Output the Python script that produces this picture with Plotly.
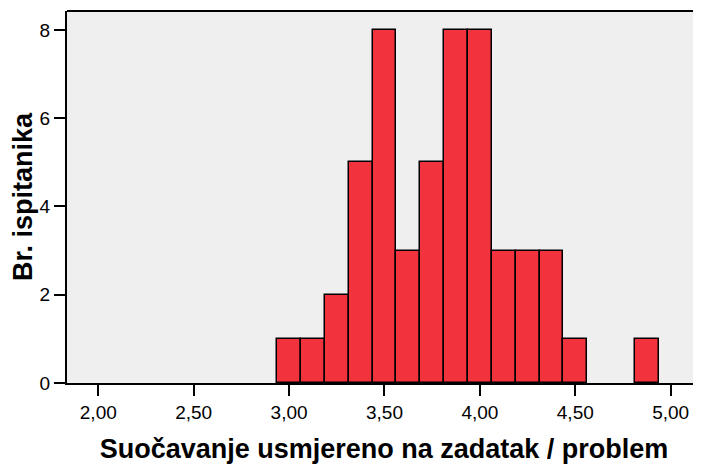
import plotly.graph_objects as go

bin_centers = [3.0, 3.125, 3.25, 3.375, 3.5, 3.625, 3.75, 3.875, 4.0, 4.125,
               4.25, 4.375, 4.5, 4.625, 4.75, 4.875]
counts = [1, 1, 2, 5, 8, 3, 5, 8, 8, 3, 3, 3, 1, 0, 0, 1]
bin_width = 0.125
x_ticks = [2.0, 2.5, 3.0, 3.5, 4.0, 4.5, 5.0]
x_tick_labels = ["2,00", "2,50", "3,00", "3,50", "4,00", "4,50", "5,00"]
y_ticks = [0, 2, 4, 6, 8]

fig = go.Figure()
fig.add_trace(go.Bar(
    x=bin_centers, y=counts, width=[bin_width] * len(bin_centers),
    marker=dict(color="#F2333D",
                line=dict(color="black", width=[1.5 if c > 0 else 0 for c in counts])),
    hoverinfo="x+y",
))

font_family = "Liberation Sans, Arial, sans-serif"
# page body has an 8px margin, so the figure is 693x456 placed at (8, 8)
fig.update_layout(
    width=693, height=456,
    margin=dict(l=59, r=0, t=3, b=81),
    paper_bgcolor="white", plot_bgcolor="#EFEFEF",
    showlegend=False,
    font=dict(family=font_family, size=18, color="black"),
    bargap=0,
    xaxis=dict(
        range=[1.836, 5.159], tickvals=x_ticks, ticktext=x_tick_labels,
        showgrid=False, zeroline=False, automargin=False,
        showline=True, linecolor="black", linewidth=2,
        ticks="outside", ticklen=11, tickwidth=2, tickcolor="black",
        tickfont=dict(size=19),
        title=dict(text="<b>Suočavanje usmjereno na zadatak / problem</b>",
                   font=dict(size=27), standoff=21),
    ),
    yaxis=dict(
        range=[0, 8.43], tickvals=y_ticks,
        showgrid=False, zeroline=False, automargin=False,
        showline=True, linecolor="black", linewidth=2,
        ticks="outside", ticklen=11, tickwidth=2, tickcolor="black",
        tickfont=dict(size=19),
        title=dict(text="<b>Br. ispitanika</b>", font=dict(size=27), standoff=8),
    ),
)
# top border line
fig.add_shape(type="line", xref="paper", yref="paper", x0=0, x1=1, y0=1, y1=1,
              line=dict(color="black", width=2))

fig.write_html("out.html")
